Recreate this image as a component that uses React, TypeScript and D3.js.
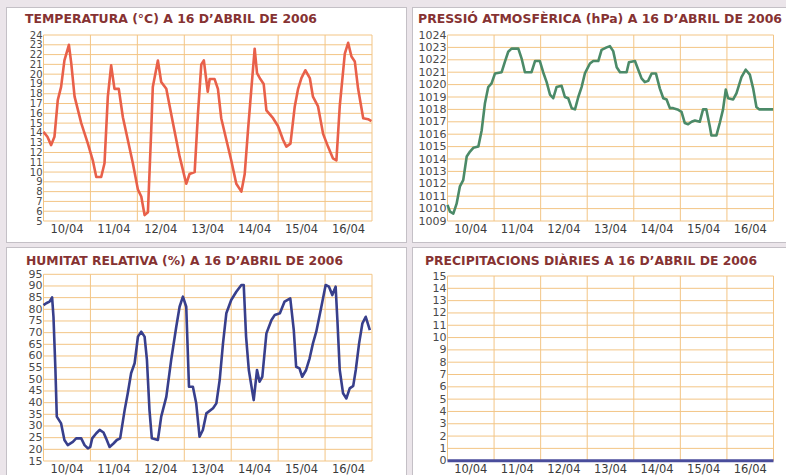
import * as d3 from "d3";

// hours since 10/04 00:00, value
const temperature: [number, number][] = [
  [0, 14.1], [2, 13.6], [3.9, 12.75], [5.6, 13.6], [7.3, 17.35], [9, 18.7], [10.7, 21.4], [13, 23.0],
  [14.2, 21.1], [15.9, 17.7], [19.3, 15.0], [22.7, 12.9], [25.2, 11.2], [27, 9.5], [29.5, 9.5],
  [31.2, 10.9], [32.9, 17.7], [34.6, 20.9], [36.3, 18.5], [38.5, 18.5], [40.6, 15.6], [43.1, 13.3],
  [45.7, 10.9], [48.3, 8.2], [50, 7.5], [51.7, 5.6], [53.4, 5.9], [55.1, 14.3], [55.9, 18.7],
  [58.5, 21.4], [60.2, 19.2], [62.8, 18.5], [66.2, 15.0], [69.6, 11.6], [73, 8.8], [74.7, 9.8],
  [77.3, 10.0], [79, 16.0], [80.7, 21.0], [82, 21.4], [84, 18.2], [85, 19.5], [87.5, 19.5],
  [89.2, 18.5], [90.9, 15.5], [93.5, 13.3], [96, 11.2], [98.6, 8.8], [101.2, 8.0], [102.9, 9.8],
  [104.6, 14.3], [106.3, 18.5], [108, 22.6], [109.2, 20.1], [110.9, 19.5], [112.6, 19.0],
  [114, 16.3], [117.4, 15.5], [119.9, 14.7], [122.5, 13.3], [124.2, 12.6], [126.3, 12.9],
  [128.5, 16.7], [130.2, 18.5], [131.9, 19.6], [133.9, 20.4], [136.2, 19.6], [137.8, 17.7],
  [140.4, 16.7], [143, 13.9], [145.5, 12.6], [148, 11.4], [149.8, 11.2], [151.5, 16.7],
  [154.1, 22.1], [155.8, 23.2], [157.5, 21.8], [159.2, 21.3], [160.9, 18.5], [163.5, 15.5],
  [166, 15.4], [167.7, 15.2]
];

const pressure: [number, number][] = [
  [0, 1010.3], [1.3, 1009.75], [3, 1009.6], [4.7, 1010.4], [6.4, 1011.8], [8.1, 1012.3],
  [9.9, 1014.2], [11.6, 1014.6], [13.3, 1014.9], [15.9, 1015.0], [17.6, 1016.3], [19.3, 1018.5],
  [21, 1019.8], [22.7, 1020.1], [24.5, 1020.9], [27.9, 1021.0], [29.6, 1021.85], [31.3, 1022.65],
  [33, 1022.9], [36.5, 1022.9], [38.2, 1022.1], [39.9, 1021.0], [43.3, 1021.0], [45.1, 1021.9],
  [47.6, 1021.9], [49.3, 1021.0], [51.1, 1020.2], [52.8, 1019.2], [54.5, 1018.9], [56.2, 1019.8],
  [58.8, 1019.9], [60.5, 1019.0], [62.2, 1018.9], [64, 1018.1], [65.7, 1018.0], [67.4, 1019.0],
  [69.1, 1019.8], [70.8, 1020.9], [73.4, 1021.7], [75.1, 1021.9], [77.7, 1021.9], [79.4, 1022.8],
  [82, 1023.0], [83.7, 1023.1], [85.4, 1022.7], [87.2, 1021.4], [88.9, 1021.0], [92.3, 1021.0],
  [93.5, 1021.8], [96.6, 1021.9], [98.3, 1021.2], [100, 1020.5], [101.7, 1020.2], [103.4, 1020.3],
  [105.2, 1020.9], [107.4, 1020.9], [109.4, 1019.7], [111.2, 1018.9], [112.9, 1018.8],
  [114.6, 1018.1], [116.3, 1018.1], [118.5, 1018.0], [120.6, 1017.8], [122.3, 1016.9],
  [124, 1016.8], [125.8, 1017.0], [127.5, 1017.1], [130, 1017.0], [131.7, 1018.0], [133.4, 1018.0],
  [135.2, 1016.6], [136, 1015.9], [138.6, 1015.9], [140.3, 1016.9], [142, 1018.0], [143.4, 1019.6],
  [144.6, 1018.9], [147.2, 1018.8], [148.9, 1019.3], [151.5, 1020.6], [153.7, 1021.2],
  [155.8, 1020.8], [157.5, 1019.7], [159.2, 1018.2], [160.6, 1018.0], [167.8, 1018.0]
];

const humidity: [number, number][] = [
  [0, 81.8], [1.4, 82.6], [3.1, 83.3], [4.4, 85.1], [5.1, 76.8], [6.1, 54], [6.8, 34], [9, 31.1],
  [10.7, 24], [12.4, 21.8], [15, 23.2], [16.7, 24.7], [19.3, 24.7], [21, 21.8], [22.7, 20.4],
  [23.9, 21], [24.9, 24.7], [27, 26.9], [28.7, 28.3], [30.7, 27.2], [32, 24.7], [33.8, 21],
  [35.8, 22.5], [37.5, 24], [39.2, 24.7], [41.5, 36.8], [43.1, 44], [44.8, 52.6], [46.6, 56.9],
  [48.3, 68.3], [50, 70.4], [51.7, 68.3], [52.9, 58.3], [54.2, 36.8], [55.4, 24.7], [58.5, 24],
  [60.2, 34], [62.8, 42.5], [65.3, 58.3], [67.9, 72.5], [69.6, 81.1], [71.3, 85.4], [73, 81.1],
  [74.4, 46.8], [76.4, 46.8], [78.1, 39.7], [79.8, 25.4], [81.5, 28.3], [83.3, 35.4], [86.7, 37.6],
  [88.4, 39.7], [90.1, 49.7], [91.8, 65.4], [93.5, 78.3], [96, 84], [98.6, 87.5], [101.2, 90.4],
  [102.4, 90.4], [103.6, 68.3], [105, 54], [107.5, 41.1], [109.2, 54], [110.5, 49], [111.9, 51.1],
  [114, 69.7], [116.6, 75.4], [118.3, 77.6], [120.9, 78.3], [123.3, 83.3], [126.2, 84.7],
  [128, 71.1], [129.2, 55.4], [130.9, 54.7], [132.3, 51.1], [134.3, 54], [136.1, 59], [137.8, 65.4],
  [139.5, 70.4], [142.1, 81.1], [144.3, 90.4], [146, 89.7], [147.7, 86.1], [149.4, 89.7],
  [150.3, 75.4], [151.5, 54], [153.2, 44], [154.9, 41.8], [156.6, 46.1], [158.4, 47.2], [159.7, 54],
  [161.4, 65.4], [163.1, 74], [164.8, 76.8], [166.9, 71.1]
];

// daily totals (mm), one per day
const precipitation: [number, number][] = [
  [0, 0], [24, 0], [48, 0], [72, 0], [96, 0], [120, 0], [144, 0], [168, 0]
];

const dayLabels = ["10/04", "11/04", "12/04", "13/04", "14/04", "15/04", "16/04"];
const tempTicks = d3.range(5, 25, 1);
const pressureTicks = d3.range(1009, 1025, 1);
const humidityTicks = d3.range(15, 100, 5);
const precipTicks = d3.range(0, 16, 1);

const GRID = "#f3c585";
const TITLE = "#863232";
const FONT = "'DejaVu Sans', Verdana, sans-serif";

type PanelProps = {
  title: string;
  titleX: number;
  titleY: number;
  titleWidth: number;
  data: [number, number][];
  ticks: number[];
  color: string;
  left: number;
  right: number;
  top: number;
  bottom: number;
  lineWidth?: number;
  tickSize?: number;
};

function Panel({
  title, titleX, titleY, titleWidth, data, ticks, color, left, right, top, bottom,
  lineWidth = 2.6, tickSize = 11
}: PanelProps) {
  const x = d3.scaleLinear().domain([0, 168]).range([left, right]);
  const y = d3.scaleLinear().domain([ticks[0], ticks[ticks.length - 1]]).range([bottom, top]);
  const line = d3.line<[number, number]>().x((d) => x(d[0])).y((d) => y(d[1]));
  const days = d3.range(0, 8);

  return (
    <g>
      <text
        x={titleX}
        y={titleY}
        fill={TITLE}
        fontFamily={FONT}
        fontWeight="bold"
        fontSize={12}
        textLength={titleWidth}
        lengthAdjust="spacingAndGlyphs"
      >
        {title}
      </text>
      {ticks.map((t) => (
        <line key={t} x1={left} x2={right} y1={y(t)} y2={y(t)} stroke={GRID} strokeWidth={1} />
      ))}
      {days.map((d) => (
        <line key={d} x1={x(d * 24)} x2={x(d * 24)} y1={top} y2={bottom} stroke={GRID} strokeWidth={1} />
      ))}
      {ticks.map((t) => (
        <text
          key={t}
          x={left - 1}
          y={y(t)}
          textAnchor="end"
          dominantBaseline="central"
          fontFamily={FONT}
          fontSize={tickSize}
          fill="#4a4a4a"
        >
          {t}
        </text>
      ))}
      {dayLabels.map((label, i) => (
        <text
          key={label}
          x={x(i * 24 + 12)}
          y={bottom + 12}
          textAnchor="middle"
          fontFamily={FONT}
          fontSize={11.5}
          fill="#3a3a3a"
        >
          {label}
        </text>
      ))}
      <path d={line(data) ?? ""} fill="none" stroke={color} strokeWidth={lineWidth} strokeLinejoin="round" />
    </g>
  );
}

export default function App() {
  return (
    <div style={{ position: "fixed", left: 0, top: 0 }}>
      <svg width={786} height={475} style={{ display: "block" }}>
        <rect x={0} y={0} width={786} height={475} fill="#ebe5ea" />
        <rect x={6.5} y={7.5} width={400} height={235} fill="#ffffff" stroke="#c4c0c6" />
        <rect x={412.5} y={7.5} width={380} height={235} fill="#ffffff" stroke="#c4c0c6" />
        <rect x={6.5} y={247.5} width={400} height={240} fill="#ffffff" stroke="#c4c0c6" />
        <rect x={412.5} y={247.5} width={380} height={240} fill="#ffffff" stroke="#c4c0c6" />

        <Panel
          title="TEMPERATURA (°C) A 16 D’ABRIL DE 2006"
          titleX={25}
          titleY={23}
          titleWidth={292}
          data={temperature}
          ticks={tempTicks}
          color="#e8604a"
          left={43.5}
          right={372}
          top={35}
          bottom={221}
          tickSize={10}
        />
        <Panel
          title="PRESSIÓ ATMOSFÈRICA  (hPa) A 16 D’ABRIL DE 2006"
          titleX={418}
          titleY={23}
          titleWidth={364}
          data={pressure}
          ticks={pressureTicks}
          color="#4b8a68"
          left={447.5}
          right={773.5}
          top={35}
          bottom={221}
        />
        <Panel
          title="HUMITAT RELATIVA (%) A 16 D’ABRIL DE 2006"
          titleX={26}
          titleY={265}
          titleWidth={317}
          data={humidity}
          ticks={humidityTicks}
          color="#383f8c"
          left={43.5}
          right={372}
          top={274.3}
          bottom={461}
        />
        <Panel
          title="PRECIPITACIONS DIÀRIES A 16 D’ABRIL DE 2006"
          titleX={425}
          titleY={265}
          titleWidth={332}
          data={precipitation}
          ticks={precipTicks}
          color="#4a4d9c"
          left={447.5}
          right={773.5}
          top={276}
          bottom={460.7}
          lineWidth={3}
        />
      </svg>
    </div>
  );
}
